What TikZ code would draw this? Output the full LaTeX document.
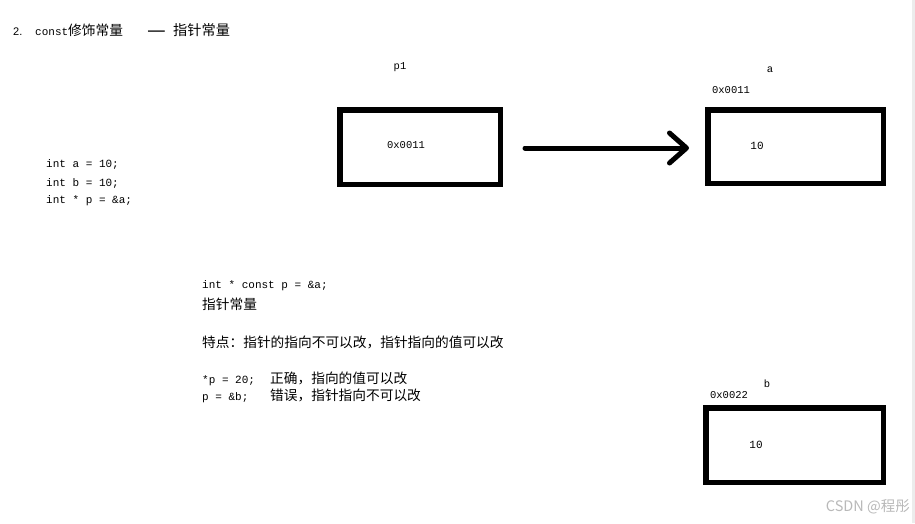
\documentclass[tikz,border=0pt]{standalone}
\usepackage{fontspec}
\setmainfont{Liberation Serif}
\setsansfont{Liberation Sans}
\setmonofont{Liberation Mono}
\newfontfamily\cjk{Noto Sans CJK SC}
\usetikzlibrary{arrows.meta}
\tikzset{
  membox/.style={draw=black, line width=5.5pt, minimum width=160pt, minimum height=74pt, inner sep=0pt},
  code/.style={font=\ttfamily\fontsize{11}{13}\selectfont, anchor=west, inner sep=0pt},
  small/.style={font=\ttfamily\fontsize{10.5}{12}\selectfont, inner sep=0pt},
  zh/.style={font=\cjk\fontsize{13.7}{15}\selectfont, anchor=west, inner sep=0pt},
  ptr/.style={line width=5pt, line cap=round, -{Straight Barb[length=17pt,width=30pt,round]}}
}
\begin{document}
\begin{tikzpicture}[x=1pt,y=-1pt]
\useasboundingbox (0,0) rectangle (915,523);
\fill[white] (0,0) rectangle (915,523);
\fill[gray!15] (912,0) rectangle (915,523);

% title
\node[anchor=west, inner sep=0pt] (title) at (13,30.5)
  {\makebox[22pt][l]{\sffamily\fontsize{11}{13}\selectfont 2.}\ttfamily\fontsize{11}{13}\selectfont const\cjk\fontsize{13.7}{16}\selectfont 修饰常量};
\node[inner sep=0pt, font=\cjk\fontsize{21}{22}\selectfont] (dash) at (156.5,34.5) {—};
\node[zh, font=\cjk\fontsize{14.2}{16}\selectfont] (title2) at (173,30.5) {指针常量};

% left code
\node[code] (c1) at (46,164) {int a = 10;};
\node[code] (c2) at (46,183) {int b = 10;};
\node[code] (c3) at (46,201) {int * p = \&a;};

% boxes
\node[membox, minimum width=160.5pt, minimum height=74.5pt] (p1) at (420,147) {};
\node[membox, minimum width=175.5pt, minimum height=73.5pt] (a) at (795.5,146.5) {};
\node[membox, minimum width=177.5pt, minimum height=74.5pt] (b) at (794.5,445) {};

% labels
\node[small] (p1lbl) at (400,67) {p1};
\node[small] (p1val) at (406,145) {0x0011};
\node[small] (albl) at (770,70) {a};
\node[small] (aaddr) at (731,90) {0x0011};
\node[small, font=\ttfamily\fontsize{11}{12}\selectfont] (aval) at (757,146) {10};
\node[small] (blbl) at (767,384) {b};
\node[small] (baddr) at (729,395) {0x0022};
\node[small, font=\ttfamily\fontsize{11}{12}\selectfont] (bval) at (756,445) {10};

% arrow
\draw[ptr, shorten <=22pt, shorten >=16pt] ([yshift=-1pt]p1.east) -- ([yshift=-1.5pt]a.west);

% explanation
\node[code] (e1) at (202,286) {int * const p = \&a;};
\node[zh] (e2) at (202,304) {指针常量};
\node[zh] (e3) at (202,342) {特点：指针的指向不可以改，指针指向的值可以改};
\node[code] (e4) at (202,379) {\makebox[68pt][l]{*p = 20;}\cjk\fontsize{13.7}{15}\selectfont 正确，指向的值可以改};
\node[code] (e5) at (202,396) {\makebox[68pt][l]{p = \&b;}\cjk\fontsize{13.7}{15}\selectfont 错误，指针指向不可以改};

% watermark
\node[anchor=east, inner sep=0pt, text=gray!55, font=\cjk\fontsize{14.5}{16}\selectfont] (wm) at (910,507) {CSDN @程彤};
\end{tikzpicture}
\end{document}
